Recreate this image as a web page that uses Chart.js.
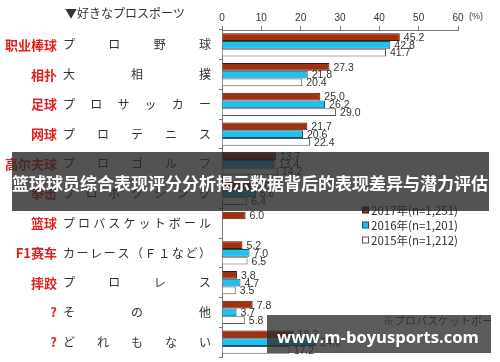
<!DOCTYPE html>
<html>
<head>
<meta charset="utf-8">
<script src="https://cdn.jsdelivr.net/npm/chart.js@4.4.0/dist/chart.umd.min.js"></script>
<style>
  html, body { margin:0; padding:0; background:#fff; }
  #wrap { position:relative; width:500px; height:362px; overflow:hidden; }
  #c { position:absolute; left:0; top:0; }
  .ov { position:absolute; color:#fff; font-weight:bold; white-space:nowrap; }
  #banner { left:12px; top:152px; width:477px; height:59px; background:rgba(40,40,40,0.8); }
  #bannerText { position:absolute; left:0; top:0; width:477px; height:59px; line-height:62px; font-family:'Noto Sans CJK SC', sans-serif; font-size:17px; text-align:left; }
  #wm { left:267px; top:315px; width:224px; height:38px; background:rgba(45,45,45,0.78); }
  #wmText { position:absolute; left:10px; top:0; height:38px; line-height:43px; font-family:'Open Sans','DejaVu Sans',sans-serif; font-size:20px; }
  #note { position:absolute; left:383px; top:312px; width:108px; overflow:hidden; white-space:nowrap; font-family:'Noto Sans CJK JP',sans-serif; font-size:11px; color:#444; }
</style>
</head>
<body>
<div id="wrap">
  <canvas id="c" width="500" height="362"></canvas>
  <div id="note">※プロバスケットボールは2017年から</div>
  <div id="banner" class="ov"><div id="bannerText">篮球球员综合表现评分分析揭示数据背后的表现差异与潜力评估</div></div>
  <div id="wm" class="ov"><span id="wmText">www.m-boyusports.com</span></div>
</div>
<script>
const categories = ['プロ野球','大相撲','プロサッカー','プロテニス','プロゴルフ','プロボクシング','プロバスケットボール','カーレース（Ｆ１など）','プロレス','その他','どれもない'];
const cnLabels = ['职业棒球','相扑','足球','网球','高尔夫球','拳击','篮球','F1赛车','摔跤','?','?'];
const seriesLabels = ['2017年(n=1,251)','2016年(n=1,201)','2015年(n=1,212)'];
const v2017 = [45.2, 27.3, 25.0, 21.7, 13.7, 7.5, 6.0, 5.2, 3.8, 7.8, 18.2];
const v2016 = [42.8, 21.8, 26.2, 20.6, 13.4, 8.6, null, 7.0, 4.7, 3.7, 24.0];
const v2015 = [41.7, 20.4, 29.0, 22.4, 14.2, 6.4, null, 6.5, 3.5, 5.8, 17.2];
const xTicks = [0, 10, 20, 30, 40, 50, 60];
const chartTitle = '▼好きなプロスポーツ';
const unitLabel = '(%)';

const fills = ['#a0300e', '#19c2f0', '#ffffff'];
const borders = ['#4a1606', '#1f4f60', '#555555'];

const textPlugin = {
  id: 'texts',
  afterDatasetsDraw(chart) {
    const ctx = chart.ctx;
    ctx.save();
    // value labels
    ctx.font = "10.5px 'Liberation Sans Narrow','Arial Narrow','Liberation Sans',sans-serif";
    ctx.fillStyle = '#333';
    ctx.textAlign = 'left';
    ctx.textBaseline = 'middle';
    chart.data.datasets.forEach((ds, di) => {
      const meta = chart.getDatasetMeta(di);
      meta.data.forEach((bar, i) => {
        const v = ds.data[i];
        if (v === null || v === undefined) return;
        ctx.fillText(v.toFixed(1), bar.x + 4, bar.y + 1);
      });
    });
    // category labels (spread) and red labels
    const ys = chart.scales.y;
    categories.forEach((cat, i) => {
      const y = ys.getPixelForValue(i);
      const chars = Array.from(cat);
      const n = chars.length;
      ctx.font = "12px 'Noto Sans CJK JP',sans-serif";
      ctx.fillStyle = '#333';
      ctx.textAlign = 'center';
      chars.forEach((ch, k) => {
        const x = n > 1 ? 69 + k * (136 / (n - 1)) : 69;
        ctx.fillText(ch, x, y);
      });
      ctx.font = "bold 13px 'Noto Sans CJK SC',sans-serif";
      ctx.fillStyle = '#e0201e';
      ctx.textAlign = 'right';
      ctx.fillText(cnLabels[i], 57, y);
    });
    // title
    ctx.font = "12px 'Noto Sans CJK JP',sans-serif";
    ctx.fillStyle = '#333';
    ctx.textAlign = 'left';
    ctx.fillText(chartTitle, 65, 13);
    ctx.font = "9px 'Liberation Sans',sans-serif";
    ctx.fillText(unitLabel, 469, 17);
    // legend
    const ly = [210, 225, 240];
    chart.data.datasets.forEach((ds, di) => {
      ctx.fillStyle = fills[di];
      ctx.strokeStyle = borders[di];
      ctx.lineWidth = 1;
      ctx.fillRect(362.5, ly[di] - 3, 6, 6);
      ctx.strokeRect(362.5, ly[di] - 3, 6, 6);
      ctx.fillStyle = '#333';
      ctx.font = "11.5px 'Liberation Sans Narrow','Noto Sans CJK JP',sans-serif";
      ctx.fillText(ds.label, 371, ly[di] + 1);
    });
    ctx.restore();
  }
};

const chart = new Chart(document.getElementById('c'), {
  type: 'bar',
  data: {
    labels: categories,
    datasets: [
      { label: seriesLabels[0], data: v2017, backgroundColor: fills[0], borderColor: borders[0], borderWidth: 1 },
      { label: seriesLabels[1], data: v2016, backgroundColor: fills[1], borderColor: borders[1], borderWidth: 1 },
      { label: seriesLabels[2], data: v2015, backgroundColor: fills[2], borderColor: borders[2], borderWidth: 1 }
    ]
  },
  options: {
    indexAxis: 'y',
    responsive: false,
    animation: false,
    devicePixelRatio: 1,
    layout: { padding: { left: 0, right: 42, top: 0, bottom: 5 } },
    datasets: { bar: { categoryPercentage: 0.78, barPercentage: 1 } },
    scales: {
      x: {
        position: 'top', min: 0, max: 60,
        afterBuildTicks(s) { s.ticks = xTicks.map(v => ({ value: v })); },
        ticks: { font: { size: 10, family: "'Liberation Sans',sans-serif" }, color: '#333', padding: 2 },
        grid: { drawOnChartArea: false, drawTicks: true, tickLength: 4, color: '#777' },
        border: { color: '#777' },
        afterFit(s) { s.height = 30; }
      },
      y: {
        ticks: { display: false },
        grid: { drawOnChartArea: false, drawTicks: true, tickLength: 3, color: '#777', offset: true },
        border: { color: '#777' },
        afterFit(s) { s.width = 222; }
      }
    },
    plugins: { legend: { display: false }, tooltip: { enabled: false } }
  },
  plugins: [textPlugin]
});

// fit overlay texts to their measured widths
function fitWidth(el, target) {
  const w = el.getBoundingClientRect().width;
  if (w > 0) {
    const fs = parseFloat(getComputedStyle(el).fontSize);
    el.style.fontSize = (fs * target / w) + 'px';
  }
}
const bt = document.getElementById('bannerText');
bt.style.display = 'inline-block'; bt.style.width = 'auto';
fitWidth(bt, 476);
fitWidth(document.getElementById('wmText'), 202);
</script>
</body>
</html>
